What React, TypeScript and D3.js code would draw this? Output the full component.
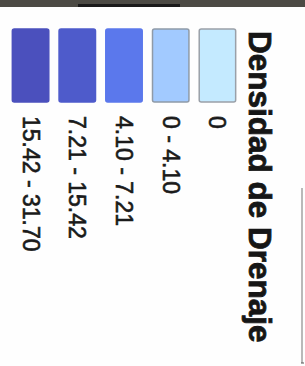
import * as d3 from "d3";

// legend classes, darkest first (left to right in the rotated legend)
const classes = ["15.42 - 31.70", "7.21 - 15.42", "4.10 - 7.21", "0 - 4.10", "0"];
const fills = ["#4b50bd", "#4e5bcb", "#5b78ec", "#a2caff", "#c4eaff"];
const strokes = ["#4b50bd", "#4e5bcb", "#5b78ec", "#8f9aa8", "#9aa0a8"];
const title = "Densidad de Drenaje";

const W = 305;
const H = 366;
const FONT = "'Liberation Sans', Arial, sans-serif";

export default function App() {
  const x = d3.scaleBand<string>().domain(classes).range([10, 238]).paddingInner(0.22).paddingOuter(0.05);
  const swTop = 29;
  const swH = 73;
  const labelY = 116;

  return (
    <svg
      width={W}
      height={H}
      style={{ position: "absolute", left: 0, top: 0, background: "#fefefe" }}
    >
      <rect x={0} y={0} width={W} height={H} fill="#fefefe" />
      {/* scanned top edge */}
      <rect x={0} y={0} width={W} height={7} fill="#4c4a44" />
      <rect x={78} y={4} width={102} height={3} fill="#1a1a1a" />

      {classes.map((c, i) => {
        const x0 = x(c) ?? 0;
        const cx = x0 + x.bandwidth() / 2;
        return (
          <g key={c}>
            <rect
              x={x0}
              y={swTop}
              width={x.bandwidth()}
              height={swH}
              rx={2}
              fill={fills[i]}
              stroke={strokes[i]}
              strokeWidth={1.5}
            />
            <text
              x={cx - 8}
              y={labelY}
              transform={`rotate(90, ${cx - 8}, ${labelY})`}
              fontFamily={FONT}
              fontSize={23}
              fill="#1a1a1a"
              stroke="#1a1a1a"
              strokeWidth={0.6}
            >
              {c}
            </text>
          </g>
        );
      })}

      <text
        x={249}
        y={31}
        transform="rotate(90, 249, 31)"
        fontFamily={FONT}
        fontSize={31.5}
        fontWeight={700}
        fill="#161616"
        stroke="#161616"
        strokeWidth={0.8}
      >
        {title}
      </text>

      {/* frame edge at right */}
      <line x1={302} x2={302} y1={188} y2={363} stroke="#8a8a8a" strokeWidth={1.2} />
      <line x1={301} x2={304} y1={363} y2={363} stroke="#555" strokeWidth={1} />
    </svg>
  );
}
